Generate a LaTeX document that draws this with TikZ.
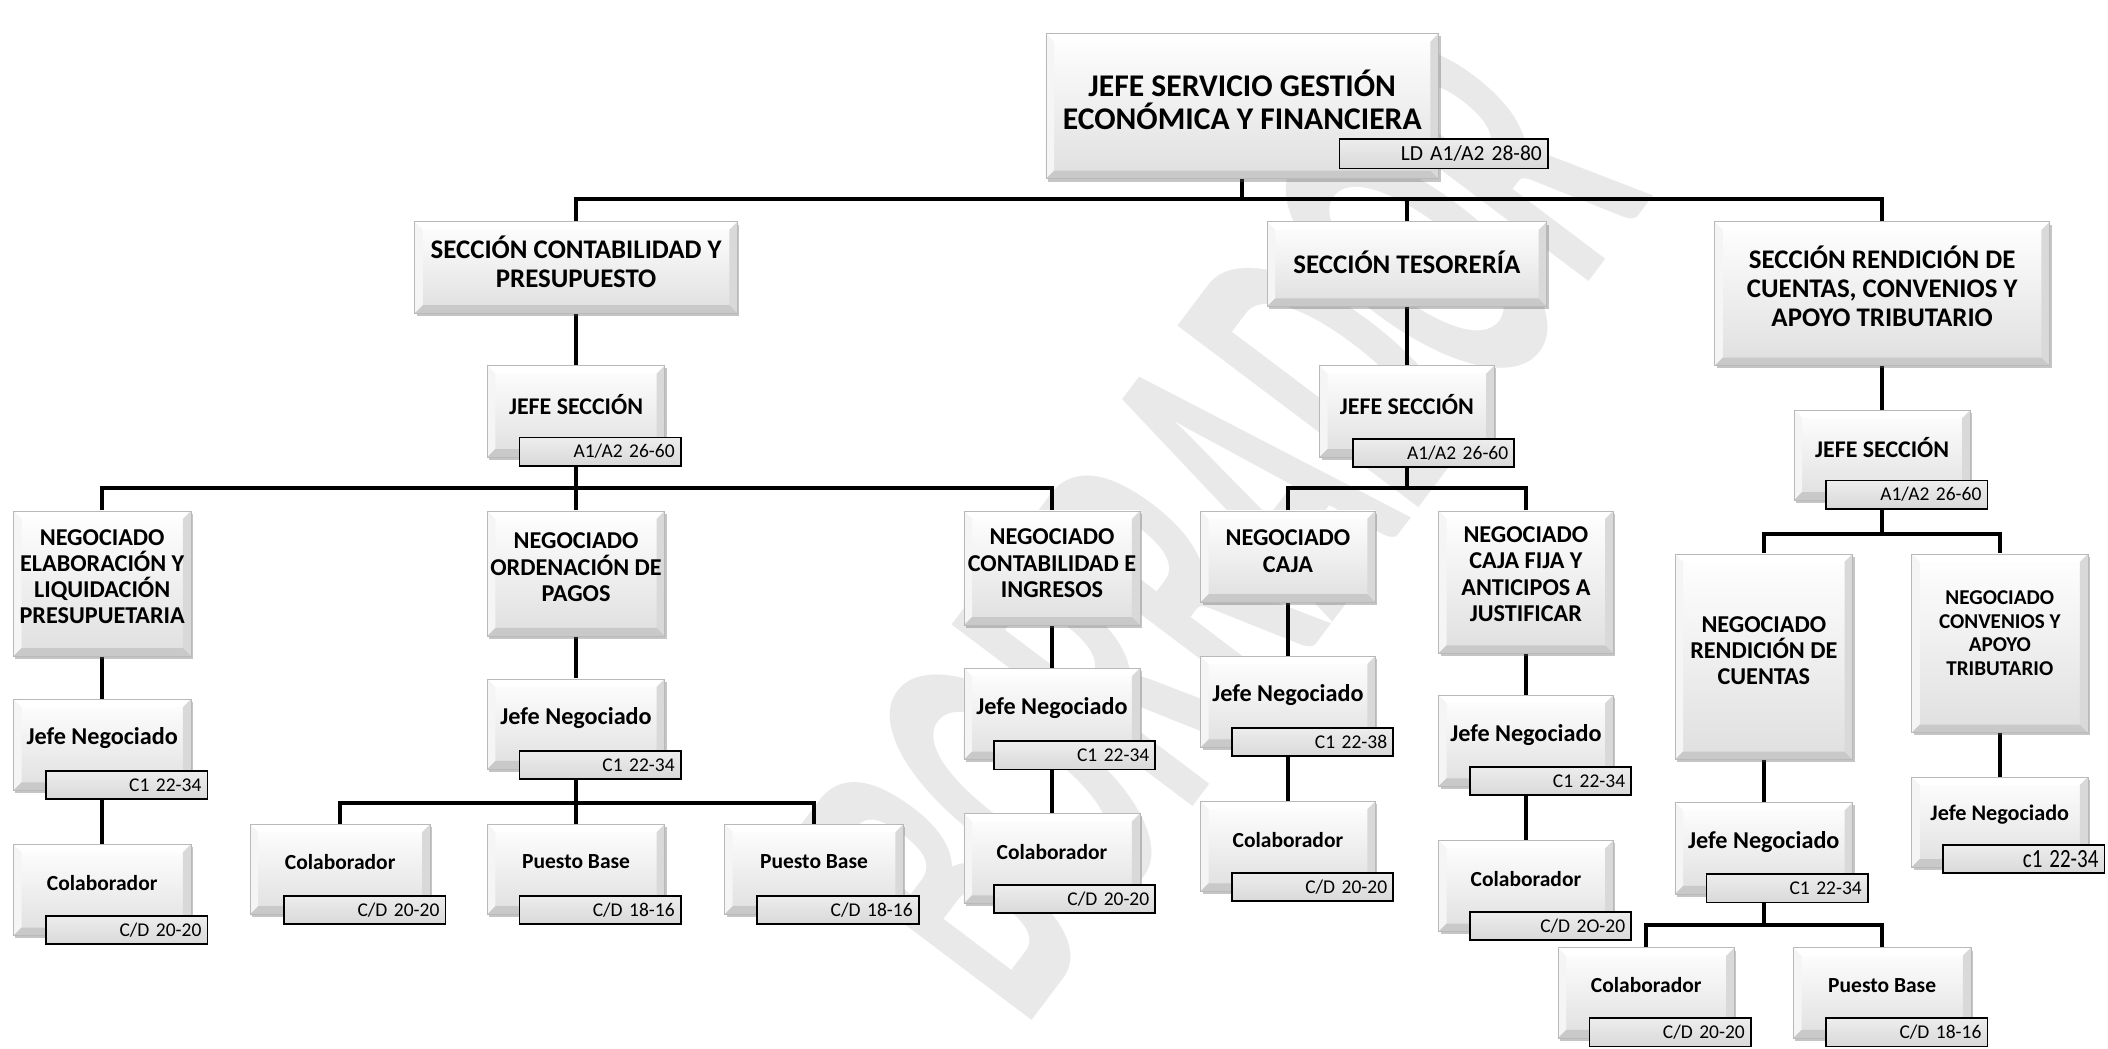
\documentclass[tikz,border=0pt]{standalone}
\usepackage{fontspec}
\setmainfont{Carlito}
\usetikzlibrary{shadows}
\pgfdeclarelayer{wm}
\pgfdeclarelayer{lines}
\pgfsetlayers{wm,lines,main}

\tikzset{
  bev/.style={draw=gray!55, line width=0.5pt, top color=white, bottom color=gray!25, inner sep=0pt,
    drop shadow={shadow xshift=1.5pt, shadow yshift=-2pt, opacity=0.35, fill=gray!70!black},
    path picture={
      \path (path picture bounding box.north west) coordinate (pnw)
            (path picture bounding box.north east) coordinate (pne)
            (path picture bounding box.south west) coordinate (psw)
            (path picture bounding box.south east) coordinate (pse);
      \fill[white] (pnw) -- (pne) -- ([shift={(-6pt,-6pt)}]pne) -- ([shift={(6pt,-6pt)}]pnw) -- cycle;
      \fill[gray!8] (pnw) -- ([shift={(6pt,-6pt)}]pnw) -- ([shift={(6pt,6pt)}]psw) -- (psw) -- cycle;
      \fill[gray!30] (pne) -- ([shift={(-6pt,-6pt)}]pne) -- ([shift={(-6pt,6pt)}]pse) -- (pse) -- cycle;
      \fill[gray!42] (psw) -- ([shift={(6pt,6pt)}]psw) -- ([shift={(-6pt,6pt)}]pse) -- (pse) -- cycle;
    }},
  lab/.style={draw=black, line width=1.3pt, top color=gray!14, bottom color=gray!30,
    inner xsep=3pt, inner ysep=0pt, anchor=south east, align=right,
    minimum width=120pt, minimum height=21pt, text width=111pt,
    font=\fontsize{14.5}{15}\selectfont},
  labtop/.style={lab, minimum width=155pt, minimum height=22pt, text width=146pt,
    font=\fontsize{16}{17}\selectfont},
  labbig/.style={lab, font=\fontsize{19.5}{20}\selectfont},
  ttop/.style={align=center, inner sep=0pt, font=\fontsize{23.5}{24.5}\selectfont\bfseries},
  tsec/.style={align=center, inner sep=0pt, font=\fontsize{20}{21.5}\selectfont\bfseries},
  tjs/.style={align=center, inner sep=0pt, font=\fontsize{17.8}{19}\selectfont\bfseries},
  tneg/.style={align=center, inner sep=0pt, font=\fontsize{18}{19.5}\selectfont\bfseries},
  tnegs/.style={align=center, inner sep=0pt, font=\fontsize{15.7}{17.5}\selectfont\bfseries},
  tjn/.style={align=center, inner sep=0pt, font=\fontsize{18}{19}\selectfont\bfseries},
  tjns/.style={align=center, inner sep=0pt, font=\fontsize{16.5}{17}\selectfont\bfseries},
  tcol/.style={align=center, inner sep=0pt, font=\fontsize{16}{18}\selectfont\bfseries},
  conn/.style={line width=3pt, black},
  wmk/.style={rotate=53, text=gray!17, inner sep=0pt, font=\fontsize{161}{161}\selectfont\bfseries}
}

% name, cx, cy, w, h, text-y, text style, text
\newcommand\obox[8]{%
  \node[bev, minimum width=#4pt, minimum height=#5pt] (#1) at (#2,#3) {};
  \node[#7] (#1t) at (#2,#6) {#8};}
% name, bottom-right corner, text
\newcommand\olab[4][lab]{\node[#1] (#2) at (#3) {#4};}

\begin{document}
\begin{tikzpicture}[x=1pt,y=-1pt]
\useasboundingbox (0,0) rectangle (1568,780);
\begin{pgfonlayer}{wm}
\fill[white] (0,0) rectangle (1568,780);
\node[wmk] (wmark) at (907,388) {\scalebox{1}[2.15]{BORRADOR}};
\end{pgfonlayer}

% top
\obox{top}{924}{79}{292}{108}{74}{ttop}{JEFE SERVICIO GESTIÓN\\ECONÓMICA Y FINANCIERA}
\olab[labtop]{topL}{1152,126}{LD A1/A2 28-80}

% sections
\obox{secC}{428.5}{199}{240}{68}{195}{tsec}{SECCIÓN CONTABILIDAD Y\\PRESUPUESTO}
\obox{secT}{1046.5}{196.5}{208}{63}{195}{tsec}{SECCIÓN TESORERÍA}
\obox{secR}{1400}{218.5}{249}{107}{213}{tsec}{SECCIÓN RENDICIÓN DE\\CUENTAS, CONVENIOS Y\\APOYO TRIBUTARIO}

% jefes de seccion
\obox{jsC}{428.5}{306}{132}{68}{301}{tjs}{JEFE SECCIÓN}
\olab{jsCL}{507,347}{A1/A2 26-60}
\obox{jsT}{1046.5}{306}{130}{68}{301}{tjs}{JEFE SECCIÓN}
\olab{jsTL}{1127,348}{A1/A2 26-60}
\obox{jsR}{1400}{338.5}{131}{67}{333}{tjs}{JEFE SECCIÓN}
\olab{jsRL}{1479,379}{A1/A2 26-60}

% negociados
\obox{ngE}{76}{434}{132}{108}{429}{tneg}{NEGOCIADO\\ELABORACIÓN Y\\LIQUIDACIÓN\\PRESUPUETARIA}
\obox{ngO}{428.5}{426.5}{132}{93}{422}{tneg}{NEGOCIADO\\ORDENACIÓN DE\\PAGOS}
\obox{ngC}{782.5}{422.5}{131}{85}{419}{tneg}{NEGOCIADO\\CONTABILIDAD E\\INGRESOS}
\obox{ngK}{958}{414}{130}{68}{410}{tneg}{NEGOCIADO\\CAJA}
\obox{ngF}{1135}{433}{130}{106}{427}{tneg}{NEGOCIADO\\CAJA FIJA Y\\ANTICIPOS A\\JUSTIFICAR}
\obox{ngR}{1312}{488.5}{132}{153}{484}{tneg}{NEGOCIADO\\RENDICIÓN DE\\CUENTAS}
\obox{ngV}{1487.5}{478.5}{131}{133}{471}{tnegs}{NEGOCIADO\\CONVENIOS Y\\APOYO\\TRIBUTARIO}

% lower levels
\obox{jn1}{76}{554}{132}{68}{549}{tjn}{Jefe Negociado}
\olab{jn1L}{155,595}{C1 22-34}
\obox{co1}{76}{662}{132}{68}{657}{tcol}{Colaborador}
\olab{co1L}{155,703}{C/D 20-20}

\obox{jn2}{428.5}{538.5}{132}{67}{534}{tjn}{Jefe Negociado}
\olab{jn2L}{507,580}{C1 22-34}
\obox{co2}{253}{646.5}{134}{67}{641}{tcol}{Colaborador}
\olab{co2L}{332,688}{C/D 20-20}
\obox{pb2}{428.5}{646.5}{132}{67}{641}{tcol}{Puesto Base}
\olab{pb2L}{507,688}{C/D 18-16}
\obox{pb3}{605.5}{646.5}{133}{67}{641}{tcol}{Puesto Base}
\olab{pb3L}{684,688}{C/D 18-16}

\obox{jn3}{782.5}{531}{131}{68}{527}{tjn}{Jefe Negociado}
\olab{jn3L}{860,573}{C1 22-34}
\obox{co3}{782.5}{638.5}{131}{67}{634}{tcol}{Colaborador}
\olab{co3L}{860,680}{C/D 20-20}

\obox{jn4}{958}{522}{130}{68}{517}{tjn}{Jefe Negociado}
\olab{jn4L}{1037,563}{C1 22-38}
\obox{co4}{958}{629.5}{130}{67}{625}{tcol}{Colaborador}
\olab{co4L}{1037,671}{C/D 20-20}

\obox{jn5}{1135}{551}{130}{68}{547}{tjn}{Jefe Negociado}
\olab{jn5L}{1214,592}{C1 22-34}
\obox{co5}{1135}{659}{130}{68}{654}{tcol}{Colaborador}
\olab{co5L}{1214,700}{C/D 2O-20}

\obox{jn6}{1312}{631}{132}{68}{626}{tjn}{Jefe Negociado}
\olab{jn6L}{1390,672}{C1 22-34}
\obox{co6}{1224.5}{738.5}{131}{67}{733}{tcol}{Colaborador}
\olab{co6L}{1303,779}{C/D 20-20}
\obox{pb6}{1400}{738.5}{132}{67}{733}{tcol}{Puesto Base}
\olab{pb6L}{1479,779}{C/D 18-16}

\obox{jn7}{1487.5}{611.5}{131}{67}{606}{tjns}{Jefe Negociado}
\olab[labbig]{jn7L}{1566,650}{\scalebox{0.8}[1]{c1 22-34}}

% connectors
\begin{pgfonlayer}{lines}
\coordinate (busA) at (0,148);
\coordinate (busC) at (0,363);
\coordinate (busR) at (0,397);
\coordinate (bus2) at (0,597);
\coordinate (bus6) at (0,688);
\draw[conn] (top.south) -- (top.south |- busA);
\draw[conn] (secC.north) |- (secR.north |- busA) -- (secR.north);
\draw[conn] (secT.north) -- (secT.north |- busA);
\draw[conn] (secC.south) -- (jsC.north);
\draw[conn] (secT.south) -- (jsT.north);
\draw[conn] (secR.south) -- (jsR.north);
\draw[conn] (ngE.north) |- (ngC.north |- busC) -- (ngC.north);
\draw[conn] (jsC.south) -- (ngO.north);
\draw[conn] (jsT.south) -- (jsT.south |- busC);
\draw[conn] (ngK.north) |- (ngF.north |- busC) -- (ngF.north);
\draw[conn] (jsR.south) -- (jsR.south |- busR);
\draw[conn] (ngR.north) |- (ngV.north |- busR) -- (ngV.north);
\draw[conn] (ngE.south) -- (jn1.north);
\draw[conn] (jn1.south) -- (co1.north);
\draw[conn] (ngO.south) -- (jn2.north);
\draw[conn] (jn2.south) -- (jn2.south |- bus2);
\draw[conn] (co2.north) |- (pb3.north |- bus2) -- (pb3.north);
\draw[conn] (pb2.north) -- (pb2.north |- bus2);
\draw[conn] (ngC.south) -- (jn3.north);
\draw[conn] (jn3.south) -- (co3.north);
\draw[conn] (ngK.south) -- (jn4.north);
\draw[conn] (jn4.south) -- (co4.north);
\draw[conn] (ngF.south) -- (jn5.north);
\draw[conn] (jn5.south) -- (co5.north);
\draw[conn] (ngR.south) -- (jn6.north);
\draw[conn] (jn6.south) -- (jn6.south |- bus6);
\draw[conn] (co6.north) |- (pb6.north |- bus6) -- (pb6.north);
\draw[conn] (ngV.south) -- (jn7.north);
\end{pgfonlayer}
\end{tikzpicture}
\end{document}
